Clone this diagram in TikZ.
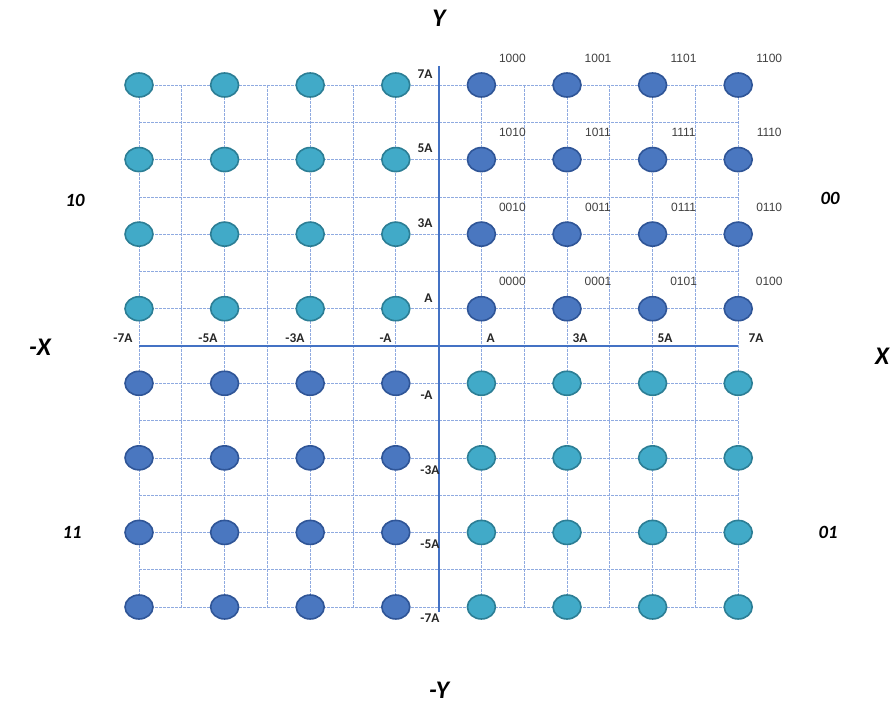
\documentclass[tikz,border=0pt]{standalone}
\usepackage{fontspec}
\setmainfont{Carlito}
\newfontfamily\bitfont{Liberation Sans}
\usetikzlibrary{positioning,calc,shapes.geometric}
\definecolor{qamTeal}{HTML}{41AAC8}
\definecolor{qamTealEdge}{HTML}{2C7E95}
\definecolor{qamBlue}{HTML}{4A77C0}
\definecolor{qamBlueEdge}{HTML}{2F5597}
\definecolor{qamGrid}{HTML}{8FAAE0}
\definecolor{qamAxis}{HTML}{4472C4}

\begin{document}
\begin{tikzpicture}[x=0.75pt,y=-0.75pt,
    gridline/.style={draw=qamGrid,line width=0.55pt,dash pattern=on 2pt off 1pt},
    axisline/.style={draw=qamAxis,line width=1.6pt},
    symdot/.style={ellipse,line width=1.2pt,minimum width=21pt,minimum height=18pt,inner sep=0pt},
    tealdot/.style={symdot,draw=qamTealEdge,fill=qamTeal},
    bluedot/.style={symdot,draw=qamBlueEdge,fill=qamBlue},
    ticklbl/.style={font=\bfseries\fontsize{10}{12}\selectfont,text=black!85,inner sep=1pt},
    bitlbl/.style={font=\bitfont\fontsize{9}{10}\selectfont,text=black!75,inner sep=1pt},
    quadlbl/.style={font=\bfseries\itshape\fontsize{14}{16}\selectfont},
    axislbl/.style={font=\bfseries\itshape\fontsize{19}{21}\selectfont}]
  \useasboundingbox (0,0) rectangle (893,706);

  % dashed grid
  \foreach \k in {0,...,14} {
    \draw[gridline] (139,85+37.29*\k) -- (738.2,85+37.29*\k);
    \draw[gridline] (139+42.8*\k,85) -- (139+42.8*\k,607);
  }

  % axes
  \coordinate (xl) at (139,346);
  \coordinate (xr) at (738.2,346);
  \coordinate (yt) at (438.6,66);
  \coordinate (yb) at (438.6,612);
  \draw[axisline] (xl) -- (xr);
  \draw[axisline] (yt) -- (yb);

  % constellation points
  \foreach \i in {0,...,7} {
    \foreach \j in {0,...,7} {
      \pgfmathtruncatemacro{\same}{(\i<4 && \j<4) || (\i>3 && \j>3) ? 1 : 0}
      \ifnum\same=1
        \node[tealdot] (d-\i-\j) at (139+85.6*\i,85+74.57*\j) {};
      \else
        \node[bluedot] (d-\i-\j) at (139+85.6*\i,85+74.57*\j) {};
      \fi
    }
  }

  % bit labels, first quadrant
  \foreach \lbl [count=\n from 0] in {1000,1001,1101,1100,1010,1011,1111,1110,
                                      0010,0011,0111,0110,0000,0001,0101,0100} {
    \pgfmathtruncatemacro{\ci}{4+mod(\n,4)}
    \pgfmathtruncatemacro{\rj}{div(\n,4)}
    \node[bitlbl] (b-\n) at ($(d-\ci-\rj)+(31,-27)$) {\lbl};
  }

  % tick labels on the Y axis
  \node[ticklbl,anchor=south east] (ty7) at (434,80)  {7A};
  \node[ticklbl,anchor=south east] (ty5) at (434,154) {5A};
  \node[ticklbl,anchor=south east] (ty3) at (434,229) {3A};
  \node[ticklbl,anchor=south east] (ty1) at (434,304) {A};
  \node[ticklbl,anchor=north east] (tym1) at (434,389) {-A};
  \node[ticklbl,anchor=north east] (tym3) at (441,464) {-3A};
  \node[ticklbl,anchor=north east] (tym5) at (441,538) {-5A};
  \node[ticklbl,anchor=north east] (tym7) at (441,612) {-7A};

  % tick labels on the X axis
  \node[ticklbl,anchor=south east] (txm7) at (134,344) {-7A};
  \node[ticklbl,anchor=south east] (txm5) at (219,344) {-5A};
  \node[ticklbl,anchor=south east] (txm3) at (306,344) {-3A};
  \node[ticklbl,anchor=south east] (txm1) at (393,344) {-A};
  \node[ticklbl,anchor=south west] (tx1) at (485,344) {A};
  \node[ticklbl,anchor=south west] (tx3) at (571,344) {3A};
  \node[ticklbl,anchor=south west] (tx5) at (656,344) {5A};
  \node[ticklbl,anchor=south west] (tx7) at (747,344) {7A};

  % quadrant and axis names
  \node[quadlbl] (q10) at (75,200) {10};
  \node[quadlbl] (q00) at (830,198) {00};
  \node[quadlbl] (q11) at (72,532) {11};
  \node[quadlbl] (q01) at (828,532) {01};
  \node[axislbl] (ny)  at (439,18)  {Y};
  \node[axislbl] (nmy) at (439,690) {-Y};
  \node[axislbl] (nmx) at (40,347)  {-X};
  \node[axislbl] (nx)  at (882,356) {X};
\end{tikzpicture}
\end{document}
